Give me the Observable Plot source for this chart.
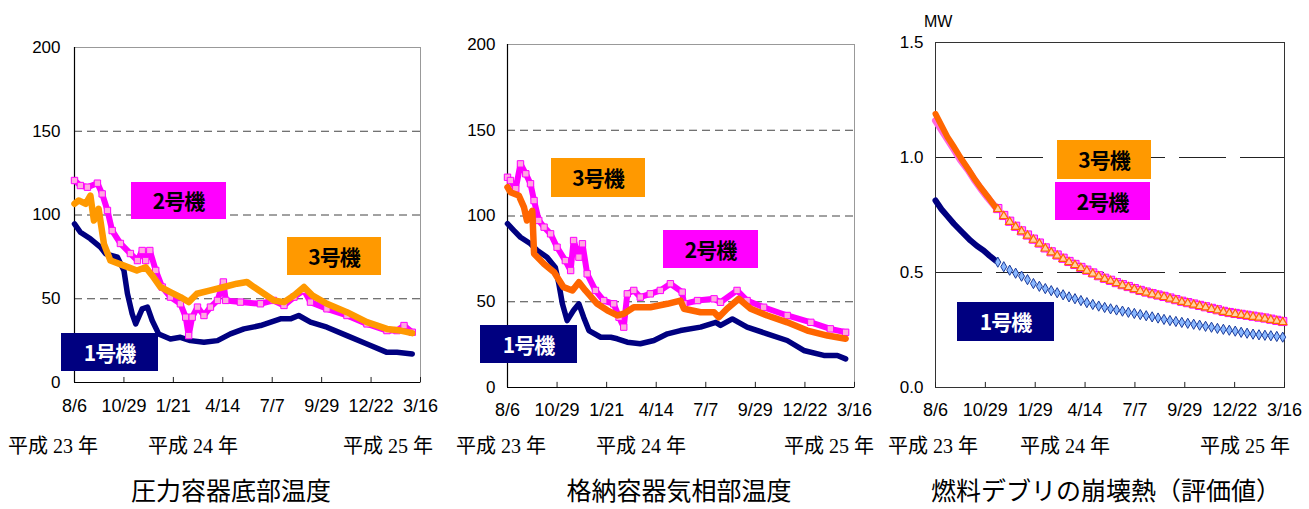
<!DOCTYPE html>
<html><head><meta charset="utf-8">
<script src="https://cdn.jsdelivr.net/npm/d3@7"></script>
<script src="https://cdn.jsdelivr.net/npm/@observablehq/plot@0.6"></script>
<style>
body{margin:0;background:#fff;}
#root{position:relative;width:1309px;height:509px;overflow:hidden;background:#fff;}
.panel{position:absolute;top:0;}
.lbl{position:absolute;display:flex;align-items:center;justify-content:center;font-family:"Noto Sans CJK JP",sans-serif;font-weight:700;font-size:21px;letter-spacing:-1px;line-height:1;}
.yr{position:absolute;font-family:"Liberation Serif","Noto Sans CJK JP",serif;font-size:20px;line-height:1;top:436px;white-space:nowrap;color:#000;}
.ttl{position:absolute;font-family:"Noto Sans CJK JP",sans-serif;font-size:25px;line-height:1;top:477px;transform:translateX(-50%);white-space:nowrap;color:#000;}
.mw{position:absolute;font-family:"Liberation Sans",Arial,sans-serif;font-size:16px;line-height:1;left:924px;top:14px;}
</style></head>
<body><div id="root"></div>
<script>
// ---------- shared axis data ----------
const startDate = "2011-08-06";
const tickDates = ["2011-08-06","2011-10-29","2012-01-21","2012-04-14","2012-07-07","2012-09-29","2012-12-22","2013-03-16"];
const tickLabelsTemp = ["8/6","10/29","1/21","4/14","7/7","9/29","12/22","3/16"];
const tickLabelsHeat = ["8/6","10/29","1/29","4/14","7/7","9/29","12/22","3/16"];
const yearLabels = ["平成 23 年","平成 24 年","平成 25 年"];
const titles = ["圧力容器底部温度","格納容器気相部温度","燃料デブリの崩壊熱（評価値）"];
const unitNames = ["1号機","2号機","3号機"];
const tempTicks = [0,50,100,150,200];
const tempGrid = [50,100,150];
const heatTicks = [0,0.5,1.0,1.5];
const heatGrid = [0.5,1.0];

// ---------- panel 1: 圧力容器底部温度 (days since 2011-08-06, ℃) ----------
const p1u1Days = [0,10,27,44,53,73,84,90,98,104,115,124,132,143,163,180,197,220,243,265,288,316,350,367,381,401,429,463,497,531,548,574];
const p1u1Vals = [94.7,89.7,85.8,80.8,76.8,74.8,66.9,53,41,35,44,45,37,29,26,27,25,24,25,29,32,34,38,38,40,36,33,28,23,18,18,17];
const p1u2Days = [0,10,22,39,47,56,64,78,95,107,115,121,128,138,149,163,180,189,194,200,209,220,231,243,253,257,282,316,338,356,373,390,401,429,463,497,531,548,560,574];
const p1u2Vals = [120.6,117.6,116.6,119,112.6,102.7,90.7,83,77,72.8,78.8,72.8,78.8,66.9,57,51,47,39,28,39,45,40,45,49,60,49,48,47,49,46,51,55,48,44,40,35,31,31,34,30];
const p1u3Days = [0,7,19,27,33,41,50,61,84,106,121,132,146,163,180,194,208,231,254,276,293,305,339,356,373,390,404,429,463,497,531,554,574];
const p1u3Vals = [106.7,108.7,106.7,111.6,96.7,103.7,82.8,72.8,69.8,66.9,68.8,63.9,57,54,51,48,53,55,57,59,60,57,49,48,52,57,52,47,42,36,32,31,29.5];

// ---------- panel 2: 格納容器気相部温度 ----------
const p2u1Days = [0,11,22,39,50,67,81,87,93,101,112,121,129,138,158,175,186,203,225,248,271,293,327,353,361,381,406,440,474,502,536,559,573];
const p2u1Vals = [95.5,91.5,87.6,83.8,80,76,70,60.5,48.8,39,45,48.8,41,33.2,29.3,29.3,28.4,26.4,25.5,27.4,31.3,33.2,35.2,38,36.2,40,35.2,31.3,27.4,21.6,18.7,18.7,16.7];
const p2u2Days = [0,5,14,22,31,39,45,53,62,73,84,98,107,112,121,127,135,149,163,180,189,197,203,214,225,242,259,276,296,299,322,350,361,389,406,434,474,514,547,573];
const p2u2Vals = [122.6,120.7,115.9,130.4,124.6,118.8,109,97.4,93.5,89.6,81.8,74,68.2,85.7,76,83.8,66.3,56.6,50.7,48.8,41,35.2,54.6,56.6,52.7,54.6,56.6,60.5,55.6,48.8,50.7,51.7,49.7,56.6,50.7,46.8,42,38,34.2,32.2];
const p2u3Days = [0,5,19,28,33,42,45,62,79,95,110,121,132,152,169,186,197,214,242,271,293,299,327,350,358,372,392,412,440,474,508,542,573];
const p2u3Vals = [116.8,113.9,112,105,97.4,103,78,72,67.2,58.5,56.6,61.4,56.6,48.8,45,42,43,46.8,46.8,48.8,50.7,45.9,43.9,43.9,41,45.9,51.7,45.9,42,38,33.2,30.3,28.4];

// ---------- panel 3: 燃料デブリの崩壊熱 (MW) ----------
const p3u1Days = [0,10,20,31,45,59,70,81,91,101,105,115,125,135,145,155,165,175,185,195,205,215,225,235,245,255,265,275,285,295,305,315,325,335,345,355,365,375,385,395,405,415,425,435,445,455,465,475,485,495,505,515,525,535,545,555,565,575,585];
const p3u1Vals = [0.813,0.775,0.745,0.712,0.675,0.639,0.615,0.596,0.573,0.552,0.545,0.525,0.51,0.497,0.484,0.469,0.452,0.44,0.43,0.421,0.412,0.403,0.394,0.386,0.378,0.369,0.361,0.354,0.348,0.342,0.337,0.332,0.327,0.322,0.317,0.312,0.307,0.302,0.296,0.291,0.287,0.283,0.279,0.275,0.271,0.266,0.262,0.257,0.253,0.249,0.245,0.24,0.236,0.232,0.229,0.227,0.225,0.222,0.219];
const p3u2Days = [0,10,20,30,42,55,65,76,88,101,105,115,125,135,145,155,165,175,185,195,205,215,225,235,245,255,265,275,285,295,305,315,325,335,345,355,365,375,385,395,405,415,425,435,445,455,465,475,485,495,505,515,525,535,545,555,565,575,585];
const p3u2Vals = [1.16,1.12,1.08,1.04,0.99,0.945,0.905,0.865,0.825,0.785,0.778,0.748,0.723,0.701,0.681,0.663,0.645,0.628,0.607,0.59,0.576,0.562,0.548,0.535,0.522,0.51,0.498,0.486,0.475,0.466,0.456,0.447,0.439,0.43,0.422,0.415,0.408,0.402,0.396,0.389,0.382,0.375,0.369,0.363,0.357,0.351,0.344,0.338,0.331,0.326,0.322,0.318,0.314,0.31,0.306,0.302,0.297,0.292,0.287];
const p3u3Days = [0,10,20,30,42,55,65,76,88,101,105,115,125,135,145,155,165,175,185,195,205,215,225,235,245,255,265,275,285,295,305,315,325,335,345,355,365,375,385,395,405,415,425,435,445,455,465,475,485,495,505,515,525,535,545,555,565,575,585];
const p3u3Vals = [1.19,1.14,1.09,1.05,1.0,0.95,0.91,0.87,0.83,0.784,0.775,0.745,0.72,0.698,0.678,0.66,0.642,0.625,0.604,0.587,0.573,0.559,0.545,0.532,0.519,0.507,0.495,0.483,0.472,0.463,0.453,0.444,0.436,0.427,0.419,0.412,0.405,0.399,0.393,0.386,0.379,0.372,0.366,0.36,0.354,0.348,0.341,0.335,0.328,0.323,0.319,0.315,0.311,0.307,0.303,0.299,0.294,0.289,0.284];
const p3DenseEnd = 101;

// ---------- helpers ----------
const t0 = new Date(startDate + "T00:00:00Z").getTime();
const toDate = d => new Date(t0 + d * 864e5);
const ticks = tickDates.map(s => new Date(s + "T00:00:00Z"));
const xDomain = [ticks[0], ticks[ticks.length - 1]];
const series = (days, vals) => days.map((d, i) => ({date: toDate(d), v: vals[i]}));
const labelFor = labels => { const m = new Map(ticks.map((t, i) => [+t, labels[i]])); return d => m.get(+d); };

const NAVY = "#000080", MAGENTA = "#FF00FF", ORANGE = "#FF9900", RED_ORANGE = "#FF6600";
const root = document.getElementById("root");

function tempPanel(o) {
  const u1 = series(o.d1, o.v1), u2 = series(o.d2, o.v2), u3 = series(o.d3, o.v3);
  const svg = Plot.plot({
    width: o.width, height: 430,
    marginLeft: o.ml, marginRight: o.mr, marginTop: o.mt, marginBottom: o.mb,
    x: {type: "utc", domain: xDomain, label: null},
    y: {domain: [0, 200], label: null},
    style: {fontFamily: "'Liberation Sans', Arial, sans-serif", background: "transparent", color: "#000"},
    marks: [
      Plot.ruleY(tempGrid, {stroke: "#444", strokeWidth: 1, strokeDasharray: "8,5"}),
      Plot.frame({stroke: "#999"}),
      Plot.ruleX(ticks, {y1: 0, y2: 3, stroke: "#222"}),
      Plot.ruleY([0], {stroke: "#000", strokeWidth: 1.2}),
      Plot.ruleX([xDomain[0]], {stroke: "#000", strokeWidth: 1.2}),
      Plot.line(u1, {x: "date", y: "v", stroke: NAVY, strokeWidth: 5.5, strokeLinejoin: "round", strokeLinecap: "round"}),
      Plot.line(u2, {x: "date", y: "v", stroke: MAGENTA, strokeWidth: 6, strokeLinejoin: "round", strokeLinecap: "round"}),
      Plot.dot(u2, {x: "date", y: "v", symbol: "square", r: 3.6, fill: "#FFA8E0", stroke: MAGENTA, strokeWidth: 1}),
      Plot.line(u3, {x: "date", y: "v", stroke: o.c3, strokeWidth: 6.5, strokeLinejoin: "round", strokeLinecap: "round"}),
      Plot.axisY({ticks: tempTicks, tickSize: 0, tickPadding: o.ypad, fontSize: 17, label: null}),
      Plot.axisX({ticks: ticks, tickSize: 0, tickPadding: o.xpad, fontSize: 18, label: null, tickFormat: labelFor(tickLabelsTemp)})
    ]
  });
  svg.classList.add("panel");
  svg.style.left = o.left + "px";
  root.appendChild(svg);
}

tempPanel({left: 0, width: 440, ml: 74, mr: 20, mt: 47, mb: 48, ypad: 14, xpad: 17,
  d1: p1u1Days, v1: p1u1Vals, d2: p1u2Days, v2: p1u2Vals, d3: p1u3Days, v3: p1u3Vals, c3: ORANGE});
tempPanel({left: 440, width: 440, ml: 67, mr: 26, mt: 44, mb: 43, ypad: 12, xpad: 16,
  d1: p2u1Days, v1: p2u1Vals, d2: p2u2Days, v2: p2u2Vals, d3: p2u3Days, v3: p2u3Vals, c3: RED_ORANGE});

// panel 3
{
  const u1 = series(p3u1Days, p3u1Vals), u2 = series(p3u2Days, p3u2Vals), u3 = series(p3u3Days, p3u3Vals);
  const dense = s => s.filter(p => p.date <= toDate(p3DenseEnd));
  const sparse = s => s.filter(p => p.date > toDate(p3DenseEnd));
  const svg = Plot.plot({
    width: 429, height: 430,
    marginLeft: 55, marginRight: 25, marginTop: 42, marginBottom: 43,
    x: {type: "utc", domain: xDomain, label: null},
    y: {domain: [0, 1.5], label: null},
    style: {fontFamily: "'Liberation Sans', Arial, sans-serif", background: "transparent", color: "#000"},
    marks: [
      Plot.ruleY(heatGrid, {stroke: "#222", strokeWidth: 1, strokeDasharray: "47,14"}),
      Plot.frame({stroke: "#333"}),
      Plot.ruleX(ticks, {y1: 0, y2: 0.022, stroke: "#222"}),
      Plot.line(dense(u1), {x: "date", y: "v", stroke: NAVY, strokeWidth: 6, strokeLinecap: "round"}),
      Plot.dot(sparse(u1), {x: "date", y: "v", symbol: "diamond", r: 3.1, fill: "#8AB8FF", stroke: "#1A3A9A", strokeWidth: 1}),
      Plot.line(dense(u2), {x: "date", y: "v", stroke: "#FF66E0", strokeWidth: 7, strokeLinecap: "round"}),
      Plot.dot(sparse(u2), {x: "date", y: "v", symbol: "square", r: 4.6, fill: "#FF9CE6", stroke: MAGENTA, strokeWidth: 1}),
      Plot.line(dense(u3), {x: "date", y: "v", stroke: RED_ORANGE, strokeWidth: 6, strokeLinecap: "round"}),
      Plot.dot(sparse(u3), {x: "date", y: "v", symbol: "triangle", r: 3.1, fill: "#FFD3A0", stroke: RED_ORANGE, strokeWidth: 1.2}),
      Plot.axisY({ticks: heatTicks, tickSize: 0, tickPadding: 12, fontSize: 17, label: null, tickFormat: d3.format(".1f")}),
      Plot.axisX({ticks: ticks, tickSize: 0, tickPadding: 16, fontSize: 18, label: null, tickFormat: labelFor(tickLabelsHeat)})
    ]
  });
  svg.classList.add("panel");
  svg.style.left = "880px";
  root.appendChild(svg);
}

// ---------- overlays: unit labels, MW, years, titles ----------
const boxes = [
  {u: 1, x: 131, y: 182, w: 95, h: 37}, {u: 2, x: 287, y: 237, w: 94, h: 38}, {u: 0, x: 61, y: 333, w: 97, h: 38},
  {u: 2, x: 551, y: 158, w: 94, h: 39}, {u: 1, x: 663, y: 230, w: 95, h: 38}, {u: 0, x: 480, y: 325, w: 97, h: 38},
  {u: 2, x: 1057, y: 140, w: 94, h: 39}, {u: 1, x: 1055, y: 182, w: 95, h: 38}, {u: 0, x: 957, y: 302, w: 97, h: 39}
];
const boxFill = ["#000080", "#FF00FF", "#FF9900"], boxText = ["#FFFFFF", "#000000", "#000000"];
boxes.forEach(b => {
  const el = document.createElement("div");
  el.className = "lbl";
  Object.assign(el.style, {left: b.x + "px", top: b.y + "px", width: b.w + "px", height: b.h + "px", background: boxFill[b.u], color: boxText[b.u]});
  el.textContent = unitNames[b.u];
  root.appendChild(el);
});
const mw = document.createElement("div"); mw.className = "mw"; mw.textContent = "MW"; root.appendChild(mw);
const yearPos = [[8, 148, 343], [456, 596, 784], [888, 1020, 1200]];
yearPos.forEach(row => row.forEach((x, i) => {
  const el = document.createElement("div"); el.className = "yr"; el.style.left = x + "px"; el.textContent = yearLabels[i]; root.appendChild(el);
}));
[231, 679, 1106].forEach((cx, i) => {
  const el = document.createElement("div"); el.className = "ttl"; el.style.left = cx + "px"; el.textContent = titles[i]; root.appendChild(el);
});
</script>
</body></html>
